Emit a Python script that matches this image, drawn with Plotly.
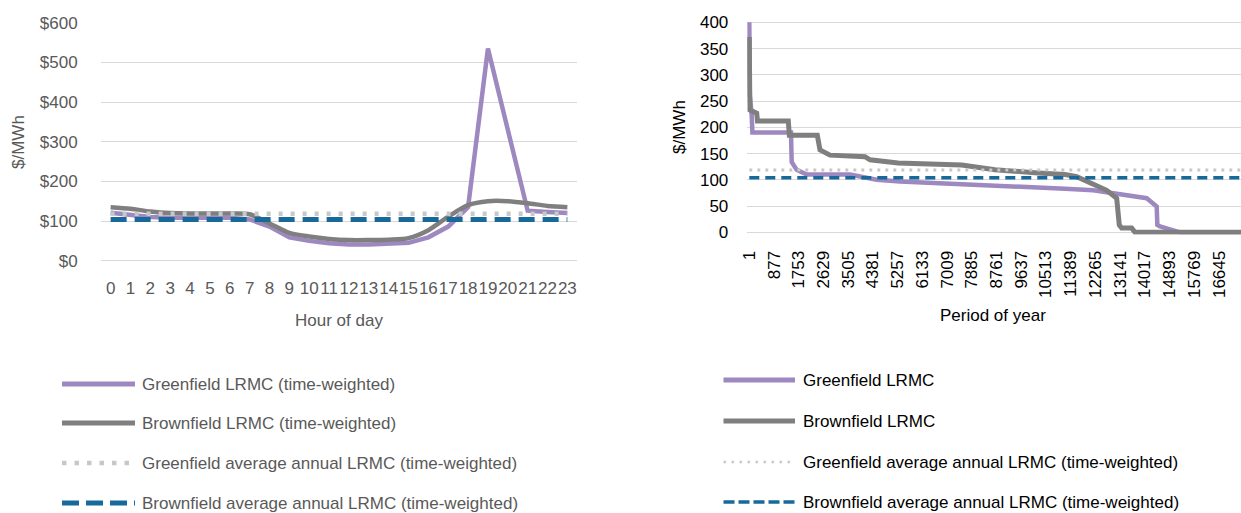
import plotly.graph_objects as go

W, H = 1241, 513

# ---------------- data ----------------
hours = list(range(24))
hour_labels = [str(h) for h in hours]
greenfield_hourly = [121, 116, 110, 108, 108, 108, 108, 104, 86, 59, 50, 44, 41, 41, 42, 45, 59, 86, 135, 535, 330, 126, 123, 120]
brownfield_hourly = [135, 131, 124, 120, 119, 119, 119, 117, 94, 70, 61, 55, 52, 52, 53, 57, 77, 111, 140, 150, 150, 145, 138, 135]
greenfield_avg = 118.5
brownfield_avg = 104

left_yticks = [0, 100, 200, 300, 400, 500, 600]
left_yticklabels = ["$" + str(v) for v in left_yticks]
right_yticks = [0, 50, 100, 150, 200, 250, 300, 350, 400]

period_ticks = [1, 877, 1753, 2629, 3505, 4381, 5257, 6133, 7009, 7885, 8761, 9637,
                10513, 11389, 12265, 13141, 14017, 14893, 15769, 16645]
period_start, period_end = 1, 17520

gf_period = [1, 20, 86, 110, 1478, 1503, 1680, 2035, 3569, 4515, 5340, 8708, 10232, 11188,
             12191, 12900, 13375, 14084, 14438, 14460, 14555, 15026, 15263, 17520]
gf_lrmc = [400, 262, 223, 190, 190, 134, 119, 110, 110, 100, 97, 90, 87, 83,
           80, 75, 71, 65, 49, 14, 11, 4, 0, 0]

bf_period = [1, 8, 20, 263, 290, 1383, 1420, 2411, 2506, 2861, 4101, 4278, 5094, 5271, 7528,
             8708, 10232, 11188, 11603, 12191, 12666, 13020, 13112, 13197, 13552, 13669, 17520]
bf_lrmc = [372, 300, 233, 227, 212, 212, 185, 185, 157, 147, 144, 138, 135, 132, 128,
           119, 113, 110, 106, 93, 80, 65, 14, 8, 8, 0, 0]

left_legend = ["Greenfield LRMC (time-weighted)", "Brownfield LRMC (time-weighted)",
               "Greenfield average annual LRMC (time-weighted)", "Brownfield average annual LRMC (time-weighted)"]
right_legend = ["Greenfield LRMC", "Brownfield LRMC",
                "Greenfield average annual LRMC (time-weighted)", "Brownfield average annual LRMC (time-weighted)"]

# ---------------- styles ----------------
PURPLE = "#9D88C0"
GREY = "#7F7F7F"
LIGHT = "#C8C8C8"
BLUE = "#17699C"
GRID = "#D9D9D9"
LTXT = "#595959"
RTXT = "#000000"
FONT = "Liberation Sans, Arial, sans-serif"
FS = 17


def px(x):
    return x / W


def py(y):
    return 1 - y / H


fig = go.Figure()

# left chart
fig.add_trace(go.Scatter(x=hours, y=greenfield_hourly, mode="lines", line=dict(color=PURPLE, width=4.5),
                         showlegend=False, xaxis="x", yaxis="y"))
fig.add_trace(go.Scatter(x=hours, y=brownfield_hourly, mode="lines",
                         line=dict(color=GREY, width=4.5, shape="spline", smoothing=0.8),
                         showlegend=False, xaxis="x", yaxis="y"))
fig.add_trace(go.Scatter(x=[hours[0], hours[-1]], y=[greenfield_avg] * 2, mode="lines",
                         line=dict(color=LIGHT, width=4.5, dash="4px,8px"), showlegend=False, xaxis="x", yaxis="y"))
fig.add_trace(go.Scatter(x=[hours[0], hours[-1]], y=[brownfield_avg] * 2, mode="lines",
                         line=dict(color=BLUE, width=5, dash="16px,8px"), showlegend=False, xaxis="x", yaxis="y"))

# right chart
fig.add_trace(go.Scatter(x=gf_period, y=gf_lrmc, mode="lines", line=dict(color=PURPLE, width=4.5),
                         showlegend=False, xaxis="x2", yaxis="y2"))
fig.add_trace(go.Scatter(x=bf_period, y=bf_lrmc, mode="lines", line=dict(color=GREY, width=5),
                         showlegend=False, xaxis="x2", yaxis="y2"))
fig.add_trace(go.Scatter(x=[period_start, period_end], y=[greenfield_avg] * 2, mode="lines",
                         line=dict(color=LIGHT, width=3, dash="3px,5px"), showlegend=False, xaxis="x2", yaxis="y2"))
fig.add_trace(go.Scatter(x=[period_start, period_end], y=[brownfield_avg] * 2, mode="lines",
                         line=dict(color=BLUE, width=3.5, dash="10px,6px"), showlegend=False, xaxis="x2", yaxis="y2"))

# axes geometry (pixel based)
L_unit = 238 / 600
L_bot = 260.7 + 4 * L_unit
L_top = 22.7 - 2 * L_unit
R_unit = 210 / 400
R_bot = 232.3 + 4 * R_unit
R_top = 22.3 - 2 * R_unit

fig.update_layout(
    width=W, height=H, margin=dict(l=0, r=0, t=0, b=0, autoexpand=False),
    paper_bgcolor="white", plot_bgcolor="white",
    font=dict(family=FONT, size=FS, color=LTXT),
    xaxis=dict(domain=[px(100.7), px(577.3)], range=[-0.5, 23.5], tickvals=hours, ticktext=hour_labels,
               tickangle=0, showgrid=False, zeroline=False, showline=False, ticks="", automargin=False,
               tickfont=dict(color=LTXT, size=FS), ticklabelstandoff=14, anchor="y"),
    yaxis=dict(domain=[py(L_bot), py(L_top)], range=[-4, 602], tickvals=left_yticks, ticktext=left_yticklabels,
               showgrid=True, gridcolor=GRID, gridwidth=1.3, zeroline=False, showline=False, automargin=False,
               ticks="", tickfont=dict(color=LTXT, size=FS), ticklabelstandoff=22, anchor="x"),
    xaxis2=dict(domain=[px(747.3), 1.0], range=[-70, 17425], tickvals=period_ticks,
                ticktext=[str(v) for v in period_ticks], tickangle=-90, showgrid=False, zeroline=False,
                showline=False, ticks="", tickfont=dict(color=RTXT, size=FS), ticklabelstandoff=12,
                automargin=False, anchor="y2"),
    yaxis2=dict(domain=[py(R_bot), py(R_top)], range=[-4, 402], tickvals=right_yticks,
                showgrid=True, gridcolor=GRID, gridwidth=1.3, zeroline=False, showline=False, ticks="",
                tickfont=dict(color=RTXT, size=FS), ticklabelstandoff=18, automargin=False, anchor="x2"),
)

ann = []
ann.append(dict(x=px(18), y=py(142), xref="paper", yref="paper", text="$/MWh", textangle=-90, showarrow=False,
                font=dict(color=LTXT, size=FS), xanchor="center", yanchor="middle"))
ann.append(dict(x=px(680), y=py(127), xref="paper", yref="paper", text="$/MWh", textangle=-90, showarrow=False,
                font=dict(color=RTXT, size=FS), xanchor="center", yanchor="middle"))
ann.append(dict(x=px(339), y=py(320), xref="paper", yref="paper", text="Hour of day", showarrow=False,
                font=dict(color=LTXT, size=FS), xanchor="center", yanchor="middle"))
ann.append(dict(x=px(993), y=py(315), xref="paper", yref="paper", text="Period of year", showarrow=False,
                font=dict(color=RTXT, size=FS), xanchor="center", yanchor="middle"))

shapes = []
left_rows = [384, 423, 463, 503]
right_rows = [380, 421, 462, 502]
left_styles = [dict(color=PURPLE, width=5), dict(color=GREY, width=5),
               dict(color=LIGHT, width=4.5, dash="4.5px,8px"), dict(color=BLUE, width=5, dash="17px,7px")]
right_styles = [dict(color=PURPLE, width=5), dict(color=GREY, width=5),
                dict(color=LIGHT, width=2.5, dash="2.5px,5.5px"), dict(color=BLUE, width=3.5, dash="11px,4px")]
for i in range(4):
    shapes.append(dict(type="line", xref="paper", yref="paper", x0=px(62), x1=px(135),
                       y0=py(left_rows[i]), y1=py(left_rows[i]), line=left_styles[i]))
    ann.append(dict(x=px(140), y=py(left_rows[i]), xref="paper", yref="paper", text=left_legend[i],
                    showarrow=False, xanchor="left", yanchor="middle", font=dict(color=LTXT, size=FS)))
    shapes.append(dict(type="line", xref="paper", yref="paper", x0=px(723.5), x1=px(795),
                       y0=py(right_rows[i]), y1=py(right_rows[i]), line=right_styles[i]))
    ann.append(dict(x=px(801), y=py(right_rows[i]), xref="paper", yref="paper", text=right_legend[i],
                    showarrow=False, xanchor="left", yanchor="middle", font=dict(color=RTXT, size=FS)))

fig.update_layout(annotations=ann, shapes=shapes)
fig.write_html("out.html")
